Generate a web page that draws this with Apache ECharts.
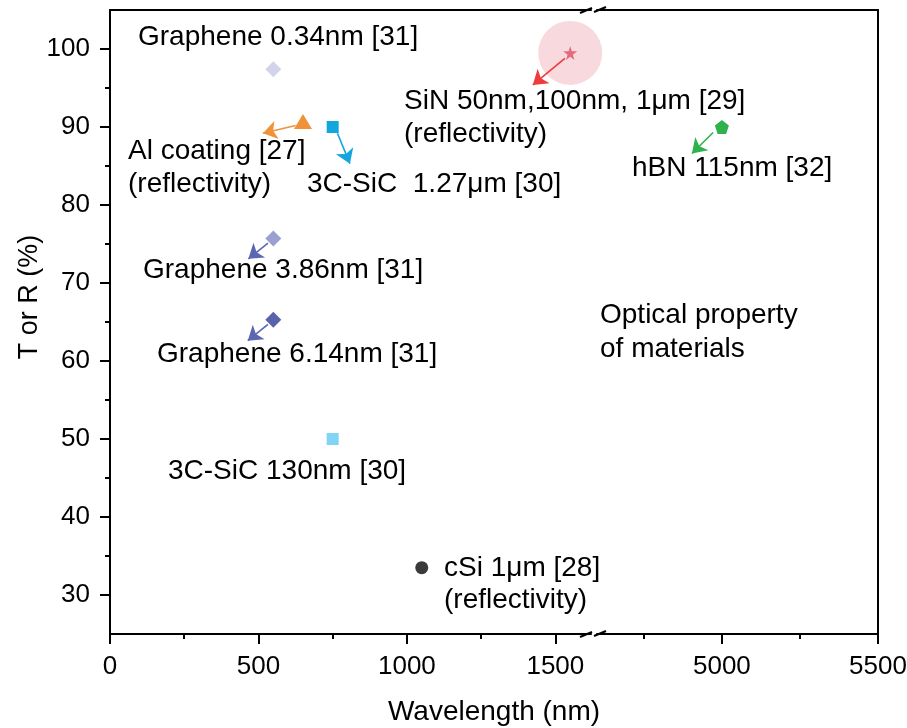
<!DOCTYPE html>
<html>
<head>
<meta charset="utf-8">
<script src="https://cdn.jsdelivr.net/npm/echarts@6/dist/echarts.min.js"></script>
<style>
  html, body { margin: 0; padding: 0; background: #fff; }
  #chart { width: 907px; height: 728px; }
</style>
</head>
<body>
<div id="chart"></div>
<script>
// data
const materials = ['Graphene 0.34nm', 'Al coating', '3C-SiC 1.27um', 'SiN', 'hBN',
  'Graphene 3.86nm', 'Graphene 6.14nm', '3C-SiC 130nm', 'cSi'];
const wavelengths = [550, 650, 750, 1550, 5000, 550, 550, 750, 1050];
const values = [97.4, 90.7, 90.0, 99.5, 90.0, 75.7, 65.3, 50.0, 33.5];
// arrow annotations (data coords), null = no arrow
const arrowFrom = [null, [625, 90.2], [766, 89.2], [1532, 98.8], [4972, 89.3], [532, 75.1], [532, 64.7], null, null];
const arrowTo = [null, [515, 89.2], [808, 85.3], [1424, 95.4], [4904, 86.6], [466, 73.1], [464, 62.6], null, null];

// tick values
const yMajor = [30, 40, 50, 60, 70, 80, 90, 100];
const yMinor = [35, 45, 55, 65, 75, 85, 95];
const xMajorLeft = [0, 500, 1000, 1500];
const xMinorLeft = [250, 750, 1250];
const xMajorRight = [5000, 5500];
const xMinorRight = [4750, 5250];

// marker styles
const symbols = ['diamond', 'triangle', 'rect',
  'path://M50,0 L61,35 L98,35 L68,57 L79,91 L50,70 L21,91 L32,57 L2,35 L39,35 Z',
  'path://M50,0 L98,35 L79,91 L21,91 L2,35 Z',
  'diamond', 'diamond', 'rect', 'circle'];
const symbolSizes = [[16, 16], [18, 15], 12, 14, 14, [16, 16], [16, 16], 12, 13];
const colors = ['#d3d4eb', '#f0923a', '#12a6de', '#e66a7d', '#2fb24c',
  '#9aa0d2', '#5863ab', '#80d5f7', '#3a3a3a'];
const arrowColors = ['', '#f0923a', '#12a6de', '#ee3b3b', '#2fb24c', '#5b67b3', '#5b67b3', '', ''];

const FONT = "'Liberation Sans', Arial, sans-serif";

// text annotations [text, left, centerY]
const notes = [
  ['Graphene 0.34nm [31]', 138, 37],
  ['SiN 50nm,100nm, 1μm [29]', 404, 101],
  ['(reflectivity)', 404, 134],
  ['Al coating [27]', 128, 151],
  ['(reflectivity)', 128, 184],
  ['3C-SiC  1.27μm [30]', 307, 184],
  ['hBN 115nm [32]', 632, 168],
  ['Graphene 3.86nm [31]', 143, 270],
  ['Optical property', 600, 315],
  ['of materials', 600, 349],
  ['Graphene 6.14nm [31]', 157, 354],
  ['3C-SiC 130nm [30]', 168, 471],
  ['cSi 1μm [28]', 444, 568],
  ['(reflectivity)', 444, 600]
];

const chart = echarts.init(document.getElementById('chart'));

const lineStyle = { color: '#000', width: 2 };
const labelStyle = { fontFamily: FONT, fontSize: 26, color: '#000', formatter: (v) => String(v) };

function xAxisPair(grid, min, max, major, minor, showLabel) {
  return [
    {
      gridIndex: grid, type: 'value', position: 'bottom', min: min, max: max,
      axisLine: { show: true, lineStyle: lineStyle },
      axisTick: { show: true, length: 10, lineStyle: lineStyle, customValues: major },
      axisLabel: { show: showLabel, margin: 20, customValues: major, ...labelStyle },
      splitLine: { show: false }
    },
    {
      gridIndex: grid, type: 'value', position: 'bottom', min: min, max: max,
      axisLine: { show: false },
      axisTick: { show: true, length: 5, lineStyle: lineStyle, customValues: minor },
      axisLabel: { show: false },
      splitLine: { show: false }
    },
    {
      gridIndex: grid, type: 'value', position: 'top', min: min, max: max,
      axisLine: { show: true, lineStyle: lineStyle },
      axisTick: { show: false }, axisLabel: { show: false }, splitLine: { show: false }
    }
  ];
}

const xAxes = [].concat(
  xAxisPair(0, 0, 1620, xMajorLeft, xMinorLeft, true),
  xAxisPair(1, 4600, 5500, xMajorRight, xMinorRight, true)
);

const yAxes = [
  {
    gridIndex: 0, type: 'value', position: 'left', min: 25, max: 105,
    axisLine: { show: true, lineStyle: lineStyle },
    axisTick: { show: true, length: 10, lineStyle: lineStyle, customValues: yMajor },
    axisLabel: { margin: 20, customValues: yMajor, ...labelStyle },
    splitLine: { show: false }
  },
  {
    gridIndex: 0, type: 'value', position: 'left', min: 25, max: 105,
    axisLine: { show: false },
    axisTick: { show: true, length: 5, lineStyle: lineStyle, customValues: yMinor },
    axisLabel: { show: false }, splitLine: { show: false }
  },
  {
    gridIndex: 1, type: 'value', position: 'left', min: 25, max: 105, show: false
  },
  {
    gridIndex: 1, type: 'value', position: 'right', min: 25, max: 105,
    axisLine: { show: true, lineStyle: lineStyle },
    axisTick: { show: false }, axisLabel: { show: false }, splitLine: { show: false }
  }
];

const series = [];
// highlight disc behind SiN star
series.push({
  type: 'scatter', xAxisIndex: 0, yAxisIndex: 0, z: 1, silent: true,
  symbol: 'circle', symbolSize: 64,
  itemStyle: { color: '#f6cfd6' },
  data: [[wavelengths[3], values[3]]]
});

materials.forEach(function (name, i) {
  const right = wavelengths[i] > 1620;
  const s = {
    name: name, type: 'scatter', z: 3,
    xAxisIndex: right ? 3 : 0, yAxisIndex: right ? 2 : 0,
    symbol: symbols[i], symbolSize: symbolSizes[i],
    itemStyle: { color: colors[i], opacity: 1 },
    data: [[wavelengths[i], values[i]]]
  };
  if (arrowFrom[i]) {
    s.markLine = {
      silent: true, animation: false,
      symbol: ['none', 'arrow'], symbolSize: 14,
      label: { show: false },
      lineStyle: { color: arrowColors[i], width: 1.6, type: 'solid' },
      itemStyle: { color: arrowColors[i] },
      data: [[{ coord: arrowFrom[i] }, { coord: arrowTo[i] }]]
    };
  }
  series.push(s);
});

const graphics = notes.map(function (n) {
  return {
    type: 'text', z: 10, silent: true,
    style: { text: n[0], x: n[1], y: n[2], fill: '#000', font: '28px ' + FONT, verticalAlign: 'middle', align: 'left' }
  };
});
// axis titles
graphics.push({
  type: 'text', z: 10, silent: true,
  style: { text: 'Wavelength (nm)', x: 494, y: 712, fill: '#000', font: '28px ' + FONT, verticalAlign: 'middle', align: 'center' }
});
graphics.push({
  type: 'text', z: 10, silent: true, x: 30, y: 297, rotation: Math.PI / 2,
  style: { text: 'T or R (%)', x: 0, y: 0, fill: '#000', font: '27px ' + FONT, verticalAlign: 'middle', align: 'center' }
});
// axis break marks
[10, 634].forEach(function (yy) {
  graphics.push({ type: 'line', z: 10, silent: true, shape: { x1: 580, y1: yy + 3, x2: 592, y2: yy - 2 }, style: { stroke: '#000', lineWidth: 2 } });
  graphics.push({ type: 'line', z: 10, silent: true, shape: { x1: 594, y1: yy + 2, x2: 606, y2: yy - 3 }, style: { stroke: '#000', lineWidth: 2 } });
});

const option = {
  animation: false,
  backgroundColor: '#fff',
  grid: [
    { left: 110, right: 907 - 591, top: 10, bottom: 728 - 634, outerBoundsMode: 'none' },
    { left: 597, right: 907 - 878, top: 10, bottom: 728 - 634, outerBoundsMode: 'none' }
  ],
  xAxis: xAxes,
  yAxis: yAxes,
  series: series,
  graphic: graphics
};

chart.setOption(option);
window.addEventListener('resize', () => {
  chart.resize();
});
</script>
</body>
</html>
